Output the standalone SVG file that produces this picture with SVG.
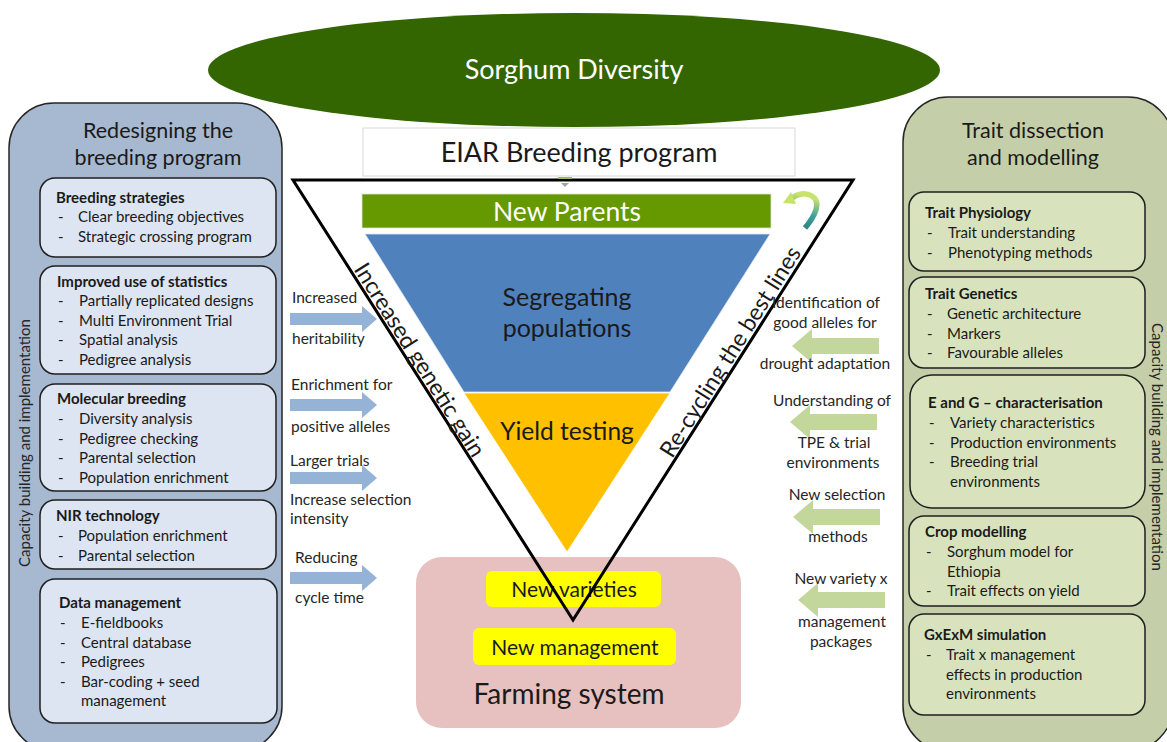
<svg xmlns="http://www.w3.org/2000/svg" width="1167" height="742" viewBox="0 0 1167 742">
  <defs>
    <style>
      text { font-family: Lato, "Open Sans", "DejaVu Sans", sans-serif; fill: #1a1a1a; }
      .panel-l { fill: #a7b8d1; stroke: #262626; stroke-width: 1.5; }
      .panel-r { fill: #c4cfaa; stroke: #262626; stroke-width: 1.5; }
      .box-l { fill: #dce5f1; stroke: #1f1f1f; stroke-width: 1.5; }
      .box-r { fill: #d8e3bd; stroke: #1f1f1f; stroke-width: 1.5; }
      .ptitle { font-size: 21.5px; text-anchor: middle; }
      .btitle { font-size: 15px; font-weight: bold; }
      .item { font-size: 15px; }
      .lbl { font-size: 15.5px; fill: #262626; }
      .lblr { font-size: 15.5px; fill: #262626; text-anchor: middle; }
      .vert { font-size: 15px; fill: #262626; text-anchor: middle; }
      .arr-l { fill: #95b3d7; }
      .arr-r { fill: #c3d69b; }
      .big { text-anchor: middle; }
      .white { fill: #ffffff; }
    </style>
    <linearGradient id="cycleGrad" x1="0" y1="1" x2="0.2" y2="0">
      <stop offset="0" stop-color="#2f7e78"/>
      <stop offset="0.5" stop-color="#3aa0a0"/>
      <stop offset="1" stop-color="#c8e36b"/>
    </linearGradient>
  </defs>

  <!-- top ellipse -->
  <g id="sorghum-diversity">
    <ellipse cx="574" cy="70" rx="366" ry="57" fill="#336600"/>
    <text x="574" y="79" class="big white" font-size="27">Sorghum Diversity</text>
  </g>

  <!-- left panel -->
  <g id="redesigning">
    <rect x="9" y="103" width="273" height="648" rx="45" class="panel-l"/>
    <text x="158" y="138" class="ptitle">Redesigning the</text>
    <text x="158" y="165" class="ptitle">breeding program</text>
    <text transform="translate(30,443) rotate(-90)" class="vert">Capacity building and implementation</text>
  </g>

  <g id="breeding-strategies">
    <rect x="40" y="178" width="236" height="79" rx="15" class="box-l"/>
    <text x="56" y="203" class="btitle">Breeding strategies</text>
    <text x="58" y="222" class="item">-</text><text x="78" y="222" class="item">Clear breeding objectives</text>
    <text x="58" y="242" class="item">-</text><text x="78" y="242" class="item">Strategic crossing program</text>
  </g>

  <g id="statistics">
    <rect x="40" y="266" width="236" height="108" rx="15" class="box-l"/>
    <text x="57" y="287" class="btitle">Improved use of statistics</text>
    <text x="58" y="306" class="item">-</text><text x="79" y="306" class="item">Partially replicated designs</text>
    <text x="58" y="326" class="item">-</text><text x="79" y="326" class="item">Multi Environment Trial</text>
    <text x="58" y="345" class="item">-</text><text x="79" y="345" class="item">Spatial analysis</text>
    <text x="58" y="365" class="item">-</text><text x="79" y="365" class="item">Pedigree analysis</text>
  </g>

  <g id="molecular-breeding">
    <rect x="40" y="384" width="236" height="107" rx="15" class="box-l"/>
    <text x="57" y="404" class="btitle">Molecular breeding</text>
    <text x="58" y="424" class="item">-</text><text x="79" y="424" class="item">Diversity analysis</text>
    <text x="58" y="444" class="item">-</text><text x="79" y="444" class="item">Pedigree checking</text>
    <text x="58" y="463" class="item">-</text><text x="79" y="463" class="item">Parental selection</text>
    <text x="58" y="483" class="item">-</text><text x="79" y="483" class="item">Population enrichment</text>
  </g>

  <g id="nir-technology">
    <rect x="40" y="500" width="236" height="69" rx="15" class="box-l"/>
    <text x="56" y="521" class="btitle">NIR technology</text>
    <text x="58" y="541" class="item">-</text><text x="78" y="541" class="item">Population enrichment</text>
    <text x="58" y="561" class="item">-</text><text x="78" y="561" class="item">Parental selection</text>
  </g>

  <g id="data-management">
    <rect x="40" y="579" width="237" height="144" rx="15" class="box-l"/>
    <text x="59" y="608" class="btitle">Data management</text>
    <text x="60" y="628" class="item">-</text><text x="81" y="628" class="item">E-fieldbooks</text>
    <text x="60" y="648" class="item">-</text><text x="81" y="648" class="item">Central database</text>
    <text x="60" y="667" class="item">-</text><text x="81" y="667" class="item">Pedigrees</text>
    <text x="60" y="687" class="item">-</text><text x="81" y="687" class="item">Bar-coding + seed</text>
    <text x="81" y="706" class="item">management</text>
  </g>

  <!-- right panel -->
  <g id="trait-dissection">
    <rect x="903" y="97" width="270" height="654" rx="45" class="panel-r"/>
    <text x="1033" y="138" class="ptitle">Trait dissection</text>
    <text x="1033" y="165" class="ptitle">and modelling</text>
    <text transform="translate(1152,447) rotate(90)" class="vert">Capacity building and implementation</text>
  </g>

  <g id="trait-physiology">
    <rect x="909" y="192" width="236" height="79" rx="15" class="box-r"/>
    <text x="925" y="218" class="btitle">Trait Physiology</text>
    <text x="927" y="238" class="item">-</text><text x="948" y="238" class="item">Trait understanding</text>
    <text x="927" y="258" class="item">-</text><text x="948" y="258" class="item">Phenotyping methods</text>
  </g>

  <g id="trait-genetics">
    <rect x="909" y="277" width="236" height="91" rx="15" class="box-r"/>
    <text x="925" y="299" class="btitle">Trait Genetics</text>
    <text x="927" y="319" class="item">-</text><text x="947" y="319" class="item">Genetic architecture</text>
    <text x="927" y="339" class="item">-</text><text x="947" y="339" class="item">Markers</text>
    <text x="927" y="358" class="item">-</text><text x="947" y="358" class="item">Favourable alleles</text>
  </g>

  <g id="e-and-g">
    <rect x="910" y="375" width="235" height="133" rx="22" class="box-r"/>
    <text x="928" y="408" class="btitle">E and G – characterisation</text>
    <text x="929" y="428" class="item">-</text><text x="950" y="428" class="item">Variety characteristics</text>
    <text x="929" y="448" class="item">-</text><text x="950" y="448" class="item">Production environments</text>
    <text x="929" y="467" class="item">-</text><text x="950" y="467" class="item">Breeding trial</text>
    <text x="950" y="487" class="item">environments</text>
  </g>

  <g id="crop-modelling">
    <rect x="909" y="516" width="236" height="90" rx="15" class="box-r"/>
    <text x="925" y="537" class="btitle">Crop modelling</text>
    <text x="926" y="557" class="item">-</text><text x="947" y="557" class="item">Sorghum model for</text>
    <text x="947" y="577" class="item">Ethiopia</text>
    <text x="926" y="596" class="item">-</text><text x="947" y="596" class="item">Trait effects on yield</text>
  </g>

  <g id="gxexm-simulation">
    <rect x="909" y="614" width="236" height="101" rx="15" class="box-r"/>
    <text x="924" y="640" class="btitle">GxExM simulation</text>
    <text x="926" y="660" class="item">-</text><text x="946" y="660" class="item">Trait x management</text>
    <text x="946" y="680" class="item">effects in production</text>
    <text x="946" y="699" class="item">environments</text>
  </g>

  <!-- programme heading -->
  <g id="eiar-program">
    <rect x="363" y="128" width="432" height="48" fill="#ffffff" stroke="#d9d9d9" stroke-width="1"/>
    <text x="579" y="162" class="big" font-size="27">EIAR Breeding program</text>
  </g>

  <!-- farming system -->
  <g id="farming-system">
    <rect x="416" y="557" width="325" height="171" rx="26" fill="#e6c1c0"/>
    <text x="569" y="704" class="big" font-size="28">Farming system</text>
  </g>
  <g id="new-varieties">
    <rect x="486" y="571" width="175" height="36" rx="6" fill="#ffff00"/>
    <text x="574" y="597" class="big" font-size="21">New varieties</text>
  </g>
  <g id="new-management">
    <rect x="473" y="628" width="203" height="37" rx="6" fill="#ffff00"/>
    <text x="575" y="655" class="big" font-size="21">New management</text>
  </g>

  <!-- breeding funnel -->
  <g id="new-parents">
    <rect x="362" y="194" width="409" height="34" fill="#669900" stroke="#e0e0e0" stroke-width="0.8"/>
    <text x="567" y="221" class="big white" font-size="26.5">New Parents</text>
  </g>
  <g id="segregating-populations">
    <polygon points="365,234 770,234 670,392 464,392" fill="#4f81bd" stroke="#dfe6f0" stroke-width="0.8"/>
    <text x="567" y="306" class="big" font-size="25">Segregating</text>
    <text x="567" y="337" class="big" font-size="25">populations</text>
  </g>
  <g id="yield-testing">
    <polygon points="464,393 670,393 567,552" fill="#ffc000" stroke="#ffffff" stroke-width="0.8"/>
    <text x="567" y="440" class="big" font-size="24.5">Yield testing</text>
  </g>

  <g id="recycle-icon">
    <path d="M805,228 C815,216 822,202 812,196 C805,192 797,194 792,198" fill="none" stroke="url(#cycleGrad)" stroke-width="5.5" stroke-linecap="butt"/>
    <polygon points="783,203 791,192 796,204" fill="#c8e36b"/>
  </g>

  <!-- connectors -->
  <g id="connectors">
    <polygon points="293,180 853,180 573,620" fill="none" stroke="#000000" stroke-width="3" stroke-linejoin="miter"/>
    <rect x="558" y="177" width="14" height="2" fill="#9bbb59"/>
    <polygon points="561,183 569,183 565,187" fill="#8faab0"/>
    <text transform="translate(413,364) rotate(57.76)" class="big" font-size="23">Increased genetic gain</text>
    <text transform="translate(737,356) rotate(-57.86)" class="big" font-size="23">Re-cycling the best lines</text>

    <path class="arr-l" d="M290,313 H362 V306 L377,319 L362,332 V325 H290 Z"/>
    <path class="arr-l" d="M290,399 H362 V392 L377,405 L362,418 V411 H290 Z"/>
    <path class="arr-l" d="M290,472 H362 V465 L377,478 L362,491 V484 H290 Z"/>
    <path class="arr-l" d="M290,572 H362 V565 L377,578 L362,591 V584 H290 Z"/>

    <path class="arr-r" d="M879,338 H812 V329 L792,346 L812,363 V354 H879 Z"/>
    <path class="arr-r" d="M877,414 H810 V405 L790,422 L810,439 V430 H877 Z"/>
    <path class="arr-r" d="M880,509 H813 V500 L793,517 L813,534 V525 H880 Z"/>
    <path class="arr-r" d="M885,592 H818 V583 L798,600 L818,617 V608 H885 Z"/>
  </g>

  <!-- arrow labels -->
  <g id="labels-left">
    <text x="292" y="303" class="lbl">Increased</text>
    <text x="292" y="344" class="lbl">heritability</text>
    <text x="291" y="390" class="lbl">Enrichment for</text>
    <text x="291" y="432" class="lbl">positive alleles</text>
    <text x="290" y="466" class="lbl">Larger trials</text>
    <text x="290" y="505" class="lbl">Increase selection</text>
    <text x="290" y="524" class="lbl">intensity</text>
    <text x="295" y="563" class="lbl">Reducing</text>
    <text x="295" y="603" class="lbl">cycle time</text>
  </g>
  <g id="labels-right">
    <text x="826" y="308" class="lblr">Identification of</text>
    <text x="825" y="328" class="lblr">good alleles for</text>
    <text x="825" y="369" class="lblr">drought adaptation</text>
    <text x="832" y="406" class="lblr">Understanding of</text>
    <text x="834" y="448" class="lblr">TPE &amp; trial</text>
    <text x="833" y="468" class="lblr">environments</text>
    <text x="837" y="500" class="lblr">New selection</text>
    <text x="838" y="542" class="lblr">methods</text>
    <text x="841" y="584" class="lblr">New variety x</text>
    <text x="842" y="627" class="lblr">management</text>
    <text x="841" y="647" class="lblr">packages</text>
  </g>
</svg>
